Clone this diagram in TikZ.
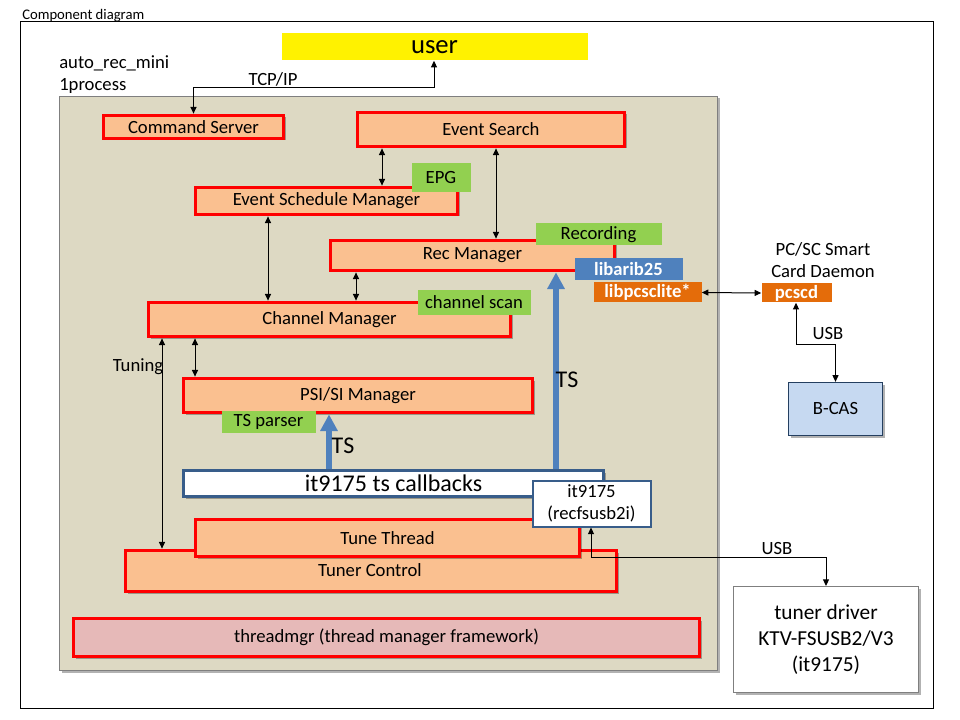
\documentclass[tikz,border=0pt]{standalone}
\usepackage{fontspec}
\setmainfont{Carlito}
\usetikzlibrary{arrows.meta,shadows}
\definecolor{compfill}{HTML}{FAC090}
\definecolor{compline}{HTML}{FF0000}
\definecolor{greenlab}{HTML}{92D050}
\definecolor{bluelab}{HTML}{4F81BD}
\definecolor{orangelab}{HTML}{E46C0A}
\definecolor{beige}{HTML}{DDD9C3}
\definecolor{pinkfill}{HTML}{E6B9B8}
\definecolor{bcasfill}{HTML}{C6D9F1}
\definecolor{bcasline}{HTML}{243F60}
\definecolor{cbline}{HTML}{385D8A}
\definecolor{grayline}{HTML}{7F7F7F}
\newcommand\bx[7]{\node[#6, minimum width={(#4-#2-3)*0.75pt}, minimum height={(#5-#3-3)*0.75pt}] (#1) at ({(#2+#4)/2},{(#3+#5)/2}) {#7};}
\tikzset{
  shad/.style={drop shadow={shadow xshift=1.5pt,shadow yshift=-1.5pt,opacity=0.3,fill=black}},
  comp/.style={draw=compline, fill=compfill, line width=2.8pt, inner sep=0pt, font=\fontsize{14}{17}\selectfont, shad},
  thread/.style={comp, fill=pinkfill},
  greenbox/.style={fill=greenlab, inner sep=0pt, font=\fontsize{14}{17}\selectfont},
  bluebox/.style={fill=bluelab, text=white, inner sep=0pt, font=\fontsize{14}{17}\selectfont\bfseries},
  orangebox/.style={fill=orangelab, text=white, inner sep=0pt, font=\fontsize{14}{17}\selectfont\bfseries},
  cbbox/.style={draw=cbline, fill=white, line width=2.8pt, inner sep=0pt, font=\fontsize{18}{22}\selectfont, shad},
  itbox/.style={draw=cbline, fill=white, line width=1.5pt, inner sep=0pt, align=center, font=\fontsize{14}{17}\selectfont},
  container/.style={draw=grayline, fill=beige, line width=0.75pt, inner sep=0pt, shad},
  bcasbox/.style={draw=bcasline, fill=bcasfill, line width=1pt, inner sep=0pt, font=\fontsize{14}{17}\selectfont, shad},
  tdbox/.style={draw=grayline, fill=white, line width=0.75pt, inner sep=0pt, align=center, font=\fontsize{16}{19.5}\selectfont, shad},
  conn/.style={draw=black, line width=0.75pt, >={Triangle[length=5pt,width=4.5pt]}},
  tsarrow/.style={draw=bluelab, line width=4.5pt, -{Triangle[length=12.5pt,width=12.5pt]}},
  lab/.style={inner sep=0pt, font=\fontsize{14}{17}\selectfont},
}
\begin{document}
\begin{tikzpicture}[x=0.75pt,y=-0.75pt]
\useasboundingbox (0,0) rectangle (960,720);
% outer frame
\node[draw=black, line width=0.75pt, minimum width={913*0.75pt}, minimum height={686*0.75pt}, inner sep=0pt] (frame) at (477,365) {};
\node[anchor=base west, inner sep=0pt, font=\fontsize{11}{13}\selectfont] (title) at (22,20) {Component diagram};
% user
\bx{user}{280}{32}{589}{62}{fill=yellow, inner sep=0pt, font=\fontsize{20}{24}\selectfont}{\raisebox{-1.5pt}{user}}
\node[lab, anchor=west] (arm) at (59,63) {auto\_rec\_mini};
\node[lab, anchor=west] (proc) at (59,86) {1process};
% container
\bx{cont}{58}{95}{719}{672}{container}{}
% components
\bx{cs}{102}{114}{285}{140}{comp}{Command Server}
\bx{es}{356}{111}{626}{148}{comp}{Event Search}
\bx{esm}{194}{186}{459}{216}{comp}{Event Schedule Manager}
\bx{epg}{410}{162}{472}{194}{greenbox}{EPG}
\bx{rec}{329}{239}{616}{272}{comp}{Rec Manager}
\bx{recording}{534}{222}{663}{247}{greenbox}{Recording}
\bx{arib}{573}{257}{684}{282}{bluebox}{libarib25}
\bx{lpc}{592}{281}{703}{304}{orangebox}{libpcsclite*}
\bx{cm}{147}{301}{512}{338}{comp}{Channel Manager}
\bx{scan}{416}{289}{532}{316}{greenbox}{channel scan}
\bx{psi}{182}{377}{534}{414}{comp}{PSI/SI Manager}
\bx{tsp}{220}{409}{317}{434}{greenbox}{TS parser}
\bx{cb}{182}{469}{605}{498}{cbbox}{it9175 ts callbacks}
\bx{tc}{124}{549}{618}{593}{comp}{}
\node[lab] (tctext) at (370,570) {Tuner Control};
\bx{tt}{194}{518}{581}{558}{comp}{Tune Thread}
\bx{it}{531}{479}{652}{528}{itbox}{it9175\\(recfsusb2i)}
\bx{tm}{72}{617}{701}{658}{thread}{threadmgr (thread manager framework)}
% outside
\node[lab, align=center] (pcsctext) at (823,260) {PC/SC Smart\\Card Daemon};
\bx{pcscd}{760}{282}{833}{304}{orangebox}{pcscd}
\bx{bcas}{787}{381}{884}{437}{bcasbox}{B-CAS}
\bx{td}{732}{585}{920}{694}{tdbox}{tuner driver\\KTV-FSUSB2/V3\\(it9175)}
% connectors
\coordinate (tcpbend) at (434,88);
\draw[conn,<->] (user.south -| tcpbend) -- (tcpbend) -| (cs.north);
\node[lab] (tcp) at (273,79) {TCP/IP};
\coordinate (x382) at (382,0);
\coordinate (x496) at (496,0);
\coordinate (x268) at (268,0);
\coordinate (x356) at (356,0);
\coordinate (x195) at (195,0);
\coordinate (x162) at (162,0);
\coordinate (x329) at (329,0);
\coordinate (x556) at (556,0);
\draw[conn,<->] (es.south -| x382) -- (esm.north -| x382);
\draw[conn,<->] (es.south -| x496) -- (rec.north -| x496);
\draw[conn,<->] (esm.south -| x268) -- (cm.north -| x268);
\draw[conn,<->] (rec.south -| x356) -- (cm.north -| x356);
\draw[conn,<->] (cm.south -| x195) -- (psi.north -| x195);
\draw[conn,<->] (cm.south -| x162) -- (tc.north -| x162);
\node[lab] (tuning) at (138,367) {Tuning};
\draw[tsarrow] (cb.north -| x329) -- (psi.south -| x329);
\node[lab, font=\fontsize{18}{21}\selectfont] (ts1) at (343,446) {TS};
\draw[tsarrow] (cb.north -| x556) -- (rec.south -| x556);
\node[lab, font=\fontsize{18}{21}\selectfont] (ts2) at (567,380) {TS};
\draw[conn,<->] (lpc.east) -- (pcscd.west);
\coordinate (usb1bend) at (796,344);
\draw[conn,<->] (pcscd.south -| usb1bend) -- (usb1bend) -| (bcas.north);
\node[lab] (usb1) at (828,334) {USB};
\coordinate (usb2bend) at (591,557);
\draw[conn,<->] (it.south -| usb2bend) -- (usb2bend) -| (td.north);
\node[lab] (usb2) at (777,549) {USB};
\end{tikzpicture}
\end{document}
